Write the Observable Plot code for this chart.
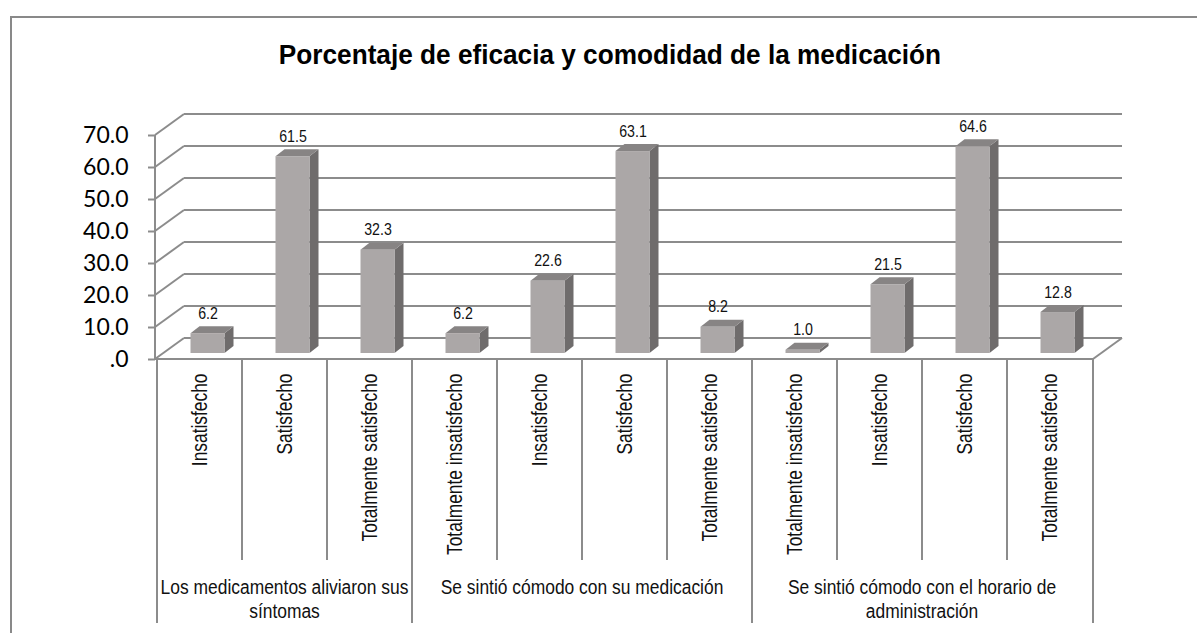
<!DOCTYPE html>
<html>
<head>
<meta charset="utf-8">
<script src="https://cdn.jsdelivr.net/npm/d3@7"></script>
<script src="https://cdn.jsdelivr.net/npm/@observablehq/plot@0.6"></script>
<style>
  html, body { margin: 0; padding: 0; background: #fff; }
  body { width: 1197px; height: 633px; overflow: hidden; position: relative; }
  #chart { position: absolute; left: 0; top: 0; }
  #frame { position: absolute; left: 10px; top: 16px; width: 1300px; height: 700px;
           border: 2px solid #898989; box-sizing: border-box; pointer-events: none; }
  #title { position: absolute; left: 0; top: 40px; width: 1220px; text-align: center;
           font-family: "Liberation Sans", Arial, sans-serif;
           font-weight: bold; font-size: 27px; color: #000;
           transform: scaleX(0.97); transform-origin: 610px 0; }
  g[aria-label="y-axis tick label"] text,
  g[aria-label="y-axis tick label"] {
    font-family: Lato, "Open Sans", sans-serif !important; font-size: 23px !important;
  }
</style>
</head>
<body>
<div id="chart"></div>
<div id="frame"></div>
<div id="title">Porcentaje de eficacia y comodidad de la medicación</div>
<script>
// ---- data ----
const groups = [
  "Los medicamentos aliviaron sus\nsíntomas",
  "Se sintió cómodo con su medicación",
  "Se sintió cómodo con el horario de\nadministración"
];
const categories = [
  "Insatisfecho", "Satisfecho", "Totalmente satisfecho",
  "Totalmente insatisfecho", "Insatisfecho", "Satisfecho", "Totalmente satisfecho",
  "Totalmente insatisfecho", "Insatisfecho", "Satisfecho", "Totalmente satisfecho"
];
const groupIndex = [0, 0, 0, 1, 1, 1, 1, 2, 2, 2, 2];
const values = [6.2, 61.5, 32.3, 6.2, 22.6, 63.1, 8.2, 1.0, 21.5, 64.6, 12.8];
const yTicks = [0, 10, 20, 30, 40, 50, 60, 70];
const yTickLabels = [".0", "10.0", "20.0", "30.0", "40.0", "50.0", "60.0", "70.0"];

const data = categories.map((c, i) => ({key: String(i), cat: c, group: groupIndex[i], value: values[i]}));
const keys = data.map(d => d.key);

// ---- style ----
const SANS = '"Liberation Sans", Arial, sans-serif';
const GRID = "#8c8c8c";
const WALL_DX = 29, WALL_DY = -21;       // depth of the back wall
const BAR_DX = 8, BAR_DY = -6;           // bar placement inside the floor depth
const BAR_DEPTH_X = 9, BAR_DEPTH_Y = -7; // bar thickness
const BAR_W = 0.4;
const FRONT = "#aba7a7", SIDE = "#6f6c6c", TOP = "#878484";

function line(g, x1, y1, x2, y2) {
  g.append("line").attr("x1", x1).attr("y1", y1).attr("x2", x2).attr("y2", y2)
    .attr("stroke", GRID).attr("stroke-width", 2);
}

// condense text horizontally (narrow typeface look)
function condense(k) {
  return (I, scales, V, dim, ctx, next) => {
    const g = next(I, scales, V, dim, ctx);
    g.querySelectorAll("text").forEach(t => {
      const tr = t.getAttribute("transform");
      if (tr) t.setAttribute("transform", tr + ` scale(${k},1)`);
      else {
        const x = +t.getAttribute("x") || 0, y = +t.getAttribute("y") || 0;
        t.setAttribute("transform", `translate(${x},${y}) scale(${k},1) translate(${-x},${-y})`);
      }
    });
    return g;
  };
}

// walls, floor, category dividers and group labels
function wallRender(I, scales, V, dim) {
  const {x, y} = scales;
  const g = d3.create("svg:g");
  const [x0, x1] = x.range();
  const bw = x.bandwidth();
  const y0 = y(0);
  for (const i of I) {
    const yy = y(yTicks[i]);
    line(g, x0, yy, x0 + WALL_DX, yy + WALL_DY);
    line(g, x0 + WALL_DX, yy + WALL_DY, x1 + WALL_DX, yy + WALL_DY);
  }
  line(g, x0, y0, x1, y0);
  line(g, x1, y0, x1 + WALL_DX, y0 + WALL_DY);
  line(g, x0, y(d3.max(yTicks)), x0, y0);
  for (let i = 0; i <= keys.length; i++) {
    const xx = i < keys.length ? x(keys[i]) : x1;
    const isGroupEdge = i === 0 || i === keys.length || groupIndex[i] !== groupIndex[i - 1];
    line(g, xx, y0, xx, y0 + (isGroupEdge ? 264 : 201));
  }
  groups.forEach((label, gi) => {
    const members = keys.filter((k, i) => groupIndex[i] === gi);
    const left = x(members[0]);
    const right = x(members[members.length - 1]) + bw;
    const cx = (left + right) / 2;
    const t = g.append("text")
      .attr("transform", `translate(${cx},${y0 + 235}) scale(0.83,1)`)
      .attr("text-anchor", "middle").attr("font-family", SANS)
      .attr("font-size", 21).attr("fill", "#111");
    label.split("\n").forEach((ln, li) => {
      t.append("tspan").attr("x", 0).attr("y", li * 24).text(ln);
    });
  });
  return g.node();
}

// 3-D bars
function barRender(I, scales, V, dim) {
  const {x, y} = scales;
  const bw = x.bandwidth();
  const g = d3.create("svg:g");
  for (const i of I) {
    const d = data[i];
    const cx = x(d.key) + bw / 2 + BAR_DX;
    const xl = cx - bw * BAR_W / 2, xr = cx + bw * BAR_W / 2;
    const yt = y(d.value) + BAR_DY, yb = y(0) + BAR_DY;
    g.append("polygon")
      .attr("points", [[xr, yt], [xr + BAR_DEPTH_X, yt + BAR_DEPTH_Y], [xr + BAR_DEPTH_X, yb + BAR_DEPTH_Y], [xr, yb]].join(" "))
      .attr("fill", SIDE);
    g.append("polygon")
      .attr("points", [[xl, yt], [xl + BAR_DEPTH_X, yt + BAR_DEPTH_Y], [xr + BAR_DEPTH_X, yt + BAR_DEPTH_Y], [xr, yt]].join(" "))
      .attr("fill", TOP);
    g.append("rect").attr("x", xl).attr("y", yt).attr("width", xr - xl).attr("height", Math.max(0, yb - yt))
      .attr("fill", FRONT);
  }
  return g.node();
}

const chart = Plot.plot({
  width: 1197,
  height: 633,
  marginLeft: 155,
  marginRight: 104,
  marginTop: 135,
  marginBottom: 274,
  style: {background: "transparent", overflow: "visible"},
  x: {type: "band", domain: keys, padding: 0, axis: null},
  y: {domain: [0, 70]},
  marks: [
    Plot.ruleY(yTicks.map((t, i) => i), {y: i => yTicks[i], render: wallRender}),
    Plot.axisY({
      ticks: yTicks,
      tickFormat: d => yTickLabels[yTicks.indexOf(d)],
      tickSize: 7,
      tickPadding: 20,
      fontSize: 23,
      fontFamily: "Lato, sans-serif",
      stroke: GRID,
      strokeWidth: 2,
      fill: "#000",
      label: null
    }),
    Plot.barY(data, {x: "key", y: "value", render: barRender}),
    Plot.text(data, {
      x: "key", y: "value", text: d => d.value.toFixed(1),
      dx: BAR_DX, dy: BAR_DY - 15, lineAnchor: "bottom",
      fontSize: 16.5, fontFamily: SANS, fill: "#111",
      render: condense(0.86)
    }),
    Plot.text(data, {
      x: "key", text: "cat", frameAnchor: "bottom", dy: 14,
      rotate: -90, textAnchor: "end", lineAnchor: "middle",
      fontSize: 22, fontFamily: SANS, fill: "#111",
      render: condense(0.79)
    })
  ]
});
document.getElementById("chart").appendChild(chart);
</script>
</body>
</html>
